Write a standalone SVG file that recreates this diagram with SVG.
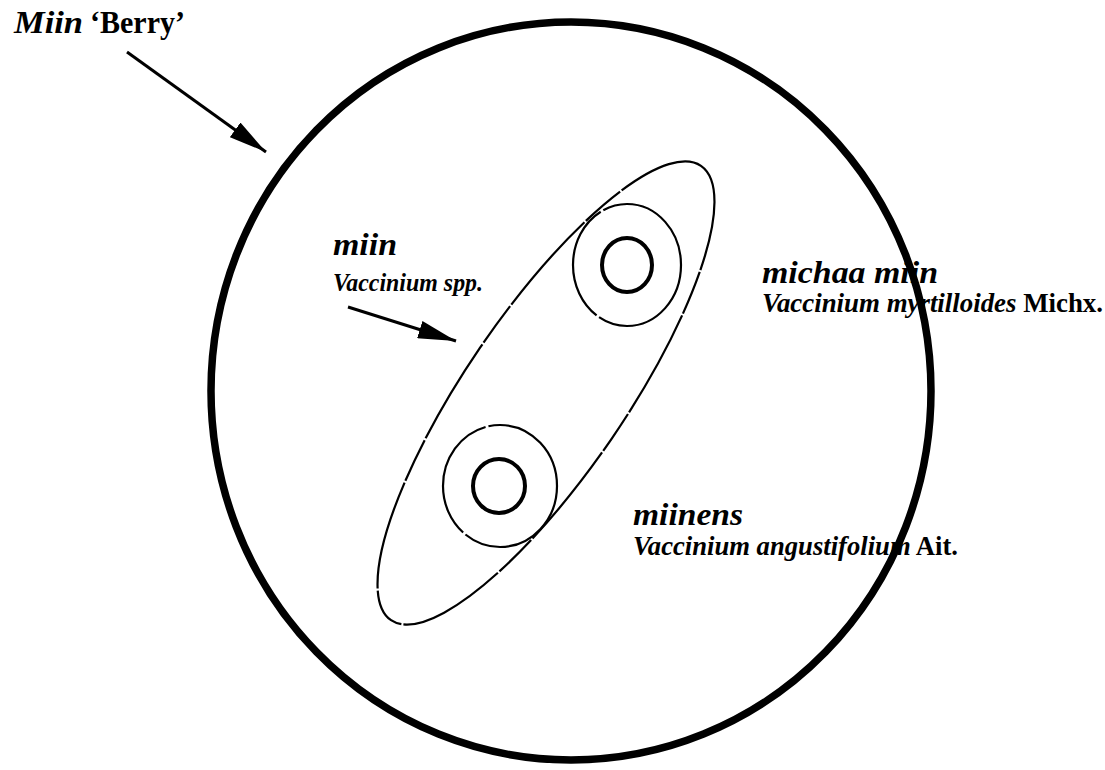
<svg xmlns="http://www.w3.org/2000/svg" width="1105" height="770" viewBox="0 0 1105 770">
<defs>
<style>
.t{font-family:"Liberation Serif","Times New Roman",serif;fill:#000;font-weight:bold}
.it{font-style:italic}
.thin{fill:none;stroke:#000;stroke-width:2.2}
.inner{fill:none;stroke:#000;stroke-width:4}
.arr{stroke:#000;stroke-width:3;fill:none}
</style>
<marker id="ahBig" viewBox="0 0 10 10" refX="10" refY="5" markerWidth="38" markerHeight="18" markerUnits="userSpaceOnUse" orient="auto" preserveAspectRatio="none">
<path d="M0,0 L10,5 L0,10 Z" fill="#000"/>
</marker>
</defs>
<rect width="1105" height="770" fill="#fff"/>
<g id="label-berry">
<text class="t it" x="14" y="33" font-size="32" textLength="69" lengthAdjust="spacingAndGlyphs">Miin</text>
<text class="t" x="90" y="33" font-size="31" textLength="95" lengthAdjust="spacingAndGlyphs">‘Berry’</text>
</g>
<g id="label-miin">
<text class="t it" x="333" y="255" font-size="32" textLength="64" lengthAdjust="spacingAndGlyphs">miin</text>
<text class="t it" x="333" y="291" font-size="25" textLength="150" lengthAdjust="spacingAndGlyphs">Vaccinium spp.</text>
</g>
<g id="label-michaa">
<text class="t it" x="762" y="283" font-size="31" textLength="176" lengthAdjust="spacingAndGlyphs">michaa miin</text>
<text class="t" x="762" y="312" font-size="27" textLength="341" lengthAdjust="spacingAndGlyphs"><tspan class="it">Vaccinium myrtilloides</tspan> Michx.</text>
</g>
<g id="label-miinens">
<text class="t it" x="633" y="525" font-size="31" textLength="110" lengthAdjust="spacingAndGlyphs">miinens</text>
<text class="t" x="633" y="555" font-size="27" textLength="325" lengthAdjust="spacingAndGlyphs"><tspan class="it">Vaccinium angustifolium</tspan> Ait.</text>
</g>
<g id="ellipse-miin">
<ellipse class="thin" cx="546" cy="393" rx="275" ry="80" transform="rotate(-55.7 546 393)" stroke-dasharray="110 2 45 2"/>
</g>
<g id="node-michaa">
<ellipse class="thin" cx="627" cy="265" rx="54" ry="61" stroke-dasharray="120 3"/>
<ellipse class="inner" cx="627" cy="265" rx="25" ry="27"/>
</g>
<g id="node-miinens">
<ellipse class="thin" cx="500" cy="486" rx="57" ry="61" stroke-dasharray="130 3"/>
<ellipse class="inner" cx="499" cy="486" rx="26" ry="27"/>
</g>
<g id="circle-berry">
<ellipse cx="571" cy="391" rx="360" ry="369" fill="none" stroke="#000" stroke-width="7.5"/>
</g>
<g id="connectors">
<line class="arr" x1="127" y1="52" x2="266" y2="152" marker-end="url(#ahBig)"/>
<line class="arr" x1="348" y1="307" x2="456" y2="341" marker-end="url(#ahBig)"/>
</g>
</svg>
